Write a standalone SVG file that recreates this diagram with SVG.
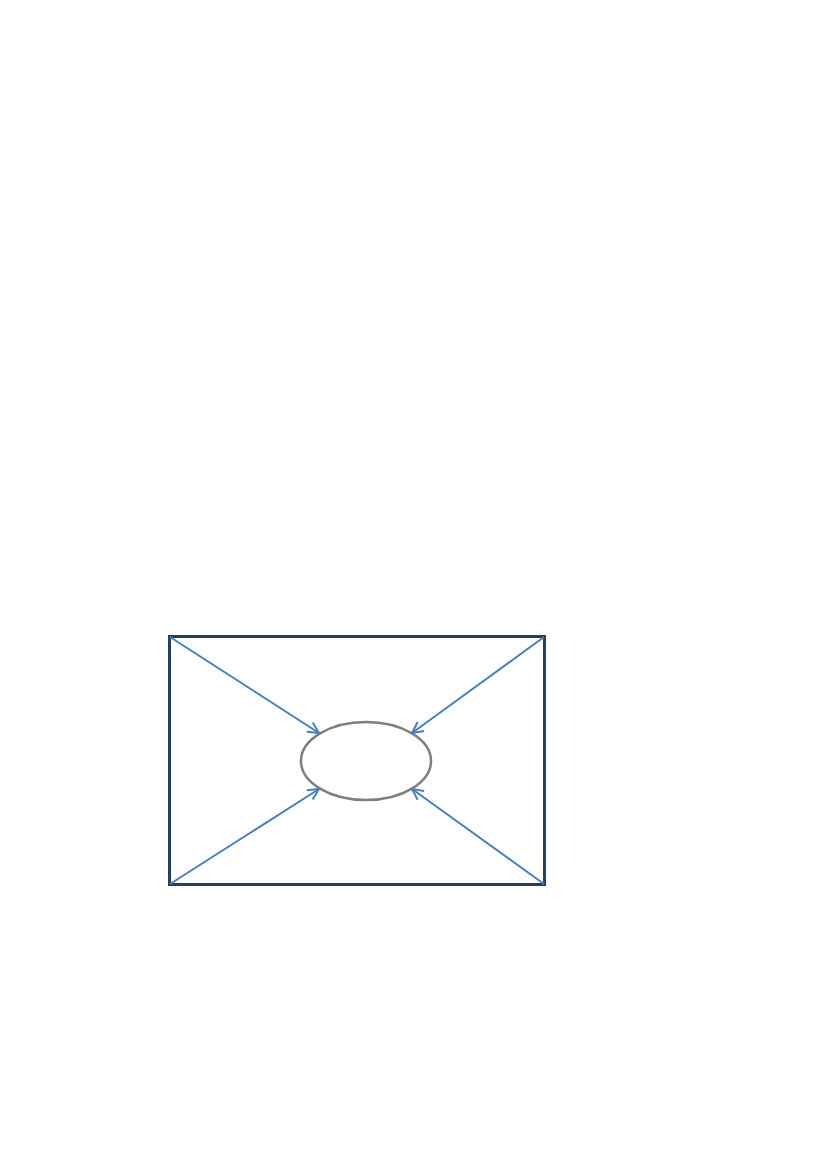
<svg xmlns="http://www.w3.org/2000/svg" width="827" height="1169" viewBox="0 0 827 1169">
<style>
.frame{fill:none;stroke:#243F60;stroke-width:3}
.node{fill:#FFFFFF;stroke:#7F7F7F;stroke-width:2.5}
.conn{fill:none;stroke:#4A7EBB;stroke-width:2;marker-end:url(#arr)}
</style>
<defs>
<marker id="arr" viewBox="0 0 12 12" refX="11" refY="6" markerWidth="12" markerHeight="12" orient="auto" markerUnits="userSpaceOnUse" overflow="visible">
<path d="M0,0.5 L11,6 L0,11.5" fill="none" stroke="#4A7EBB" stroke-width="2"/>
</marker>
</defs>
<rect width="827" height="1169" fill="#FFFFFF"/>
<g id="frame"><rect class="frame" x="169.5" y="636.5" width="375" height="248"/></g>
<g id="ellipse"><ellipse class="node" cx="366" cy="761" rx="65" ry="39"/></g>
<g id="connectors">
<line class="conn" x1="170" y1="637" x2="319" y2="733"/>
<line class="conn" x1="544" y1="637" x2="412" y2="733"/>
<line class="conn" x1="170" y1="884" x2="319" y2="789"/>
<line class="conn" x1="544" y1="884" x2="412" y2="789"/>
</g>
</svg>
